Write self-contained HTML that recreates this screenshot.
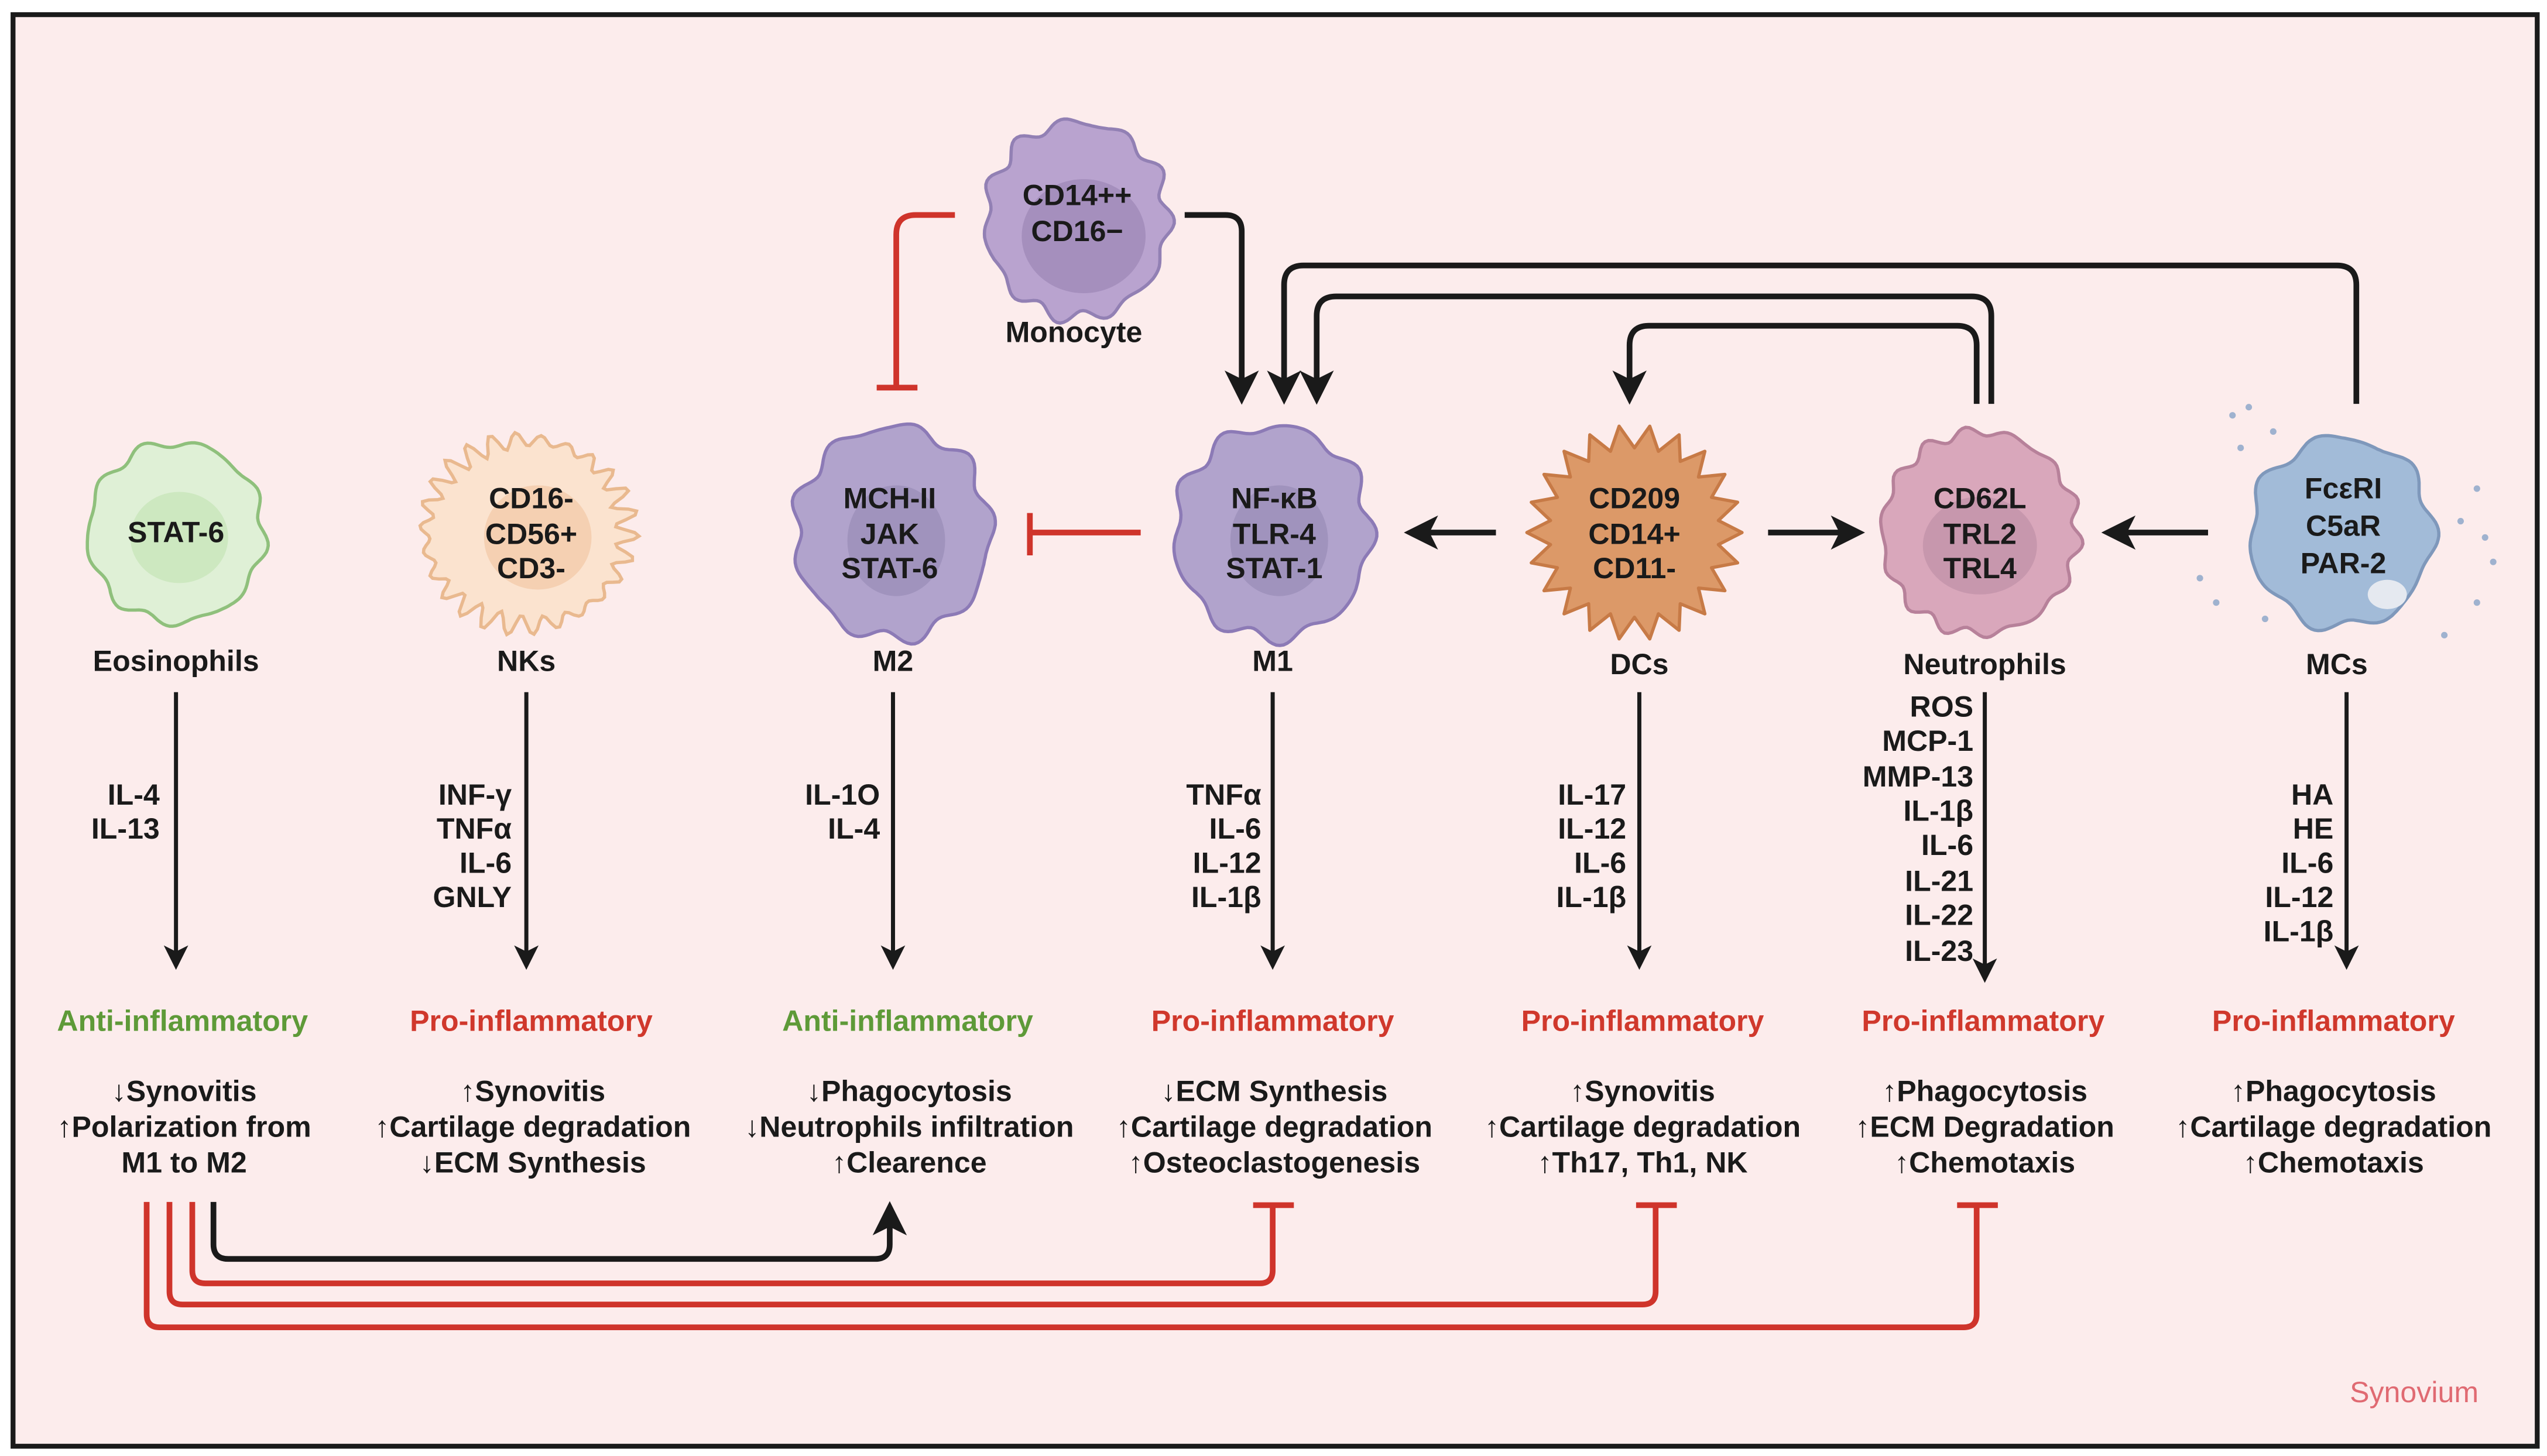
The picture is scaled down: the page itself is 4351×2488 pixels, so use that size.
<!DOCTYPE html>
<html><head><meta charset="utf-8"><style>
html,body{margin:0;padding:0;background:#fff}
svg{display:block}
text{font-family:"Liberation Sans Narrow","Liberation Sans",sans-serif;font-weight:bold;font-size:18px;fill:#1a1a1a}
.c{text-anchor:middle}.r{text-anchor:end}
.g{fill:#5e9a38}.red{fill:#d0382c}
</style></head><body>
<svg id="s" width="4351" height="2488" viewBox="0 0 1563 894" preserveAspectRatio="none" xmlns="http://www.w3.org/2000/svg">
<defs>
<marker id="a" markerWidth="6" markerHeight="6" refX="3" refY="3" orient="auto" markerUnits="strokeWidth"><path d="M0,0 L6,3 L0,6 L1.5,3 z" fill="#1a1a1a"/></marker>
</defs>
<rect x="8" y="9" width="1549" height="879" fill="#fcecec" stroke="#1a1a1a" stroke-width="3"/>
<g id="cells"></g>
<g fill="none" stroke="#1a1a1a" stroke-width="3.5" stroke-linejoin="round">
<path d="M727,132 H752 Q762,132 762,142 V238" marker-end="url(#a)"/>
<path d="M1446,248 V175 Q1446,163 1434,163 H800 Q788,163 788,175 V238" marker-end="url(#a)"/>
<path d="M1222,248 V194 Q1222,182 1210,182 H820 Q808,182 808,194 V238" marker-end="url(#a)"/>
<path d="M1213,248 V212 Q1213,200 1201,200 H1012 Q1000,200 1000,212 V238" marker-end="url(#a)"/>
<path d="M918,327 H872" marker-end="url(#a)"/>
<path d="M1085,327 H1134" marker-end="url(#a)"/>
<path d="M1355,327 H1300" marker-end="url(#a)"/>
<path d="M108,425 V588" stroke-width="2.5" marker-end="url(#a)"/>
<path d="M323,425 V588" stroke-width="2.5" marker-end="url(#a)"/>
<path d="M548,425 V588" stroke-width="2.5" marker-end="url(#a)"/>
<path d="M781,425 V588" stroke-width="2.5" marker-end="url(#a)"/>
<path d="M1006,425 V588" stroke-width="2.5" marker-end="url(#a)"/>
<path d="M1218,425 V596" stroke-width="2.5" marker-end="url(#a)"/>
<path d="M1440,425 V588" stroke-width="2.5" marker-end="url(#a)"/>
<path d="M131,738 V764 Q131,773 140,773 H537 Q546,773 546,764 V748" marker-end="url(#a)"/>
</g>
<g fill="none" stroke="#cf342b" stroke-width="3.5" stroke-linejoin="round">
<path d="M586,132 H562 Q550,132 550,144 V238 M538,238 H563"/>
<path d="M700,327 H632 M632,315 V341"/>
<path d="M118,738 V780 Q118,788 126,788 H773 Q781,788 781,780 V740 M769,740 H794"/>
<path d="M104,738 V793 Q104,801 112,801 H1008 Q1016,801 1016,793 V740 M1004,740 H1029"/>
<path d="M90,738 V807 Q90,815 98,815 H1205 Q1213,815 1213,807 V740 M1201,740 H1226"/>
</g>
<text x="661" y="126" class="c">CD14++</text><text x="661" y="148" class="c">CD16−</text>
<text x="659" y="210" class="c">Monocyte</text>
<text x="108" y="333" class="c">STAT-6</text>
<text x="326" y="312" class="c">CD16-</text><text x="326" y="334" class="c">CD56+</text><text x="326" y="355" class="c">CD3-</text>
<text x="546" y="312" class="c">MCH-II</text><text x="546" y="334" class="c">JAK</text><text x="546" y="355" class="c">STAT-6</text>
<text x="782" y="312" class="c">NF-κB</text><text x="782" y="334" class="c">TLR-4</text><text x="782" y="355" class="c">STAT-1</text>
<text x="1003" y="312" class="c">CD209</text><text x="1003" y="334" class="c">CD14+</text><text x="1003" y="355" class="c">CD11-</text>
<text x="1215" y="312" class="c">CD62L</text><text x="1215" y="334" class="c">TRL2</text><text x="1215" y="355" class="c">TRL4</text>
<text x="1438" y="306" class="c">FcεRI</text><text x="1438" y="329" class="c">C5aR</text><text x="1438" y="352" class="c">PAR-2</text>
<text x="108" y="412" class="c">Eosinophils</text><text x="323" y="412" class="c">NKs</text><text x="548" y="412" class="c">M2</text>
<text x="781" y="412" class="c">M1</text><text x="1006" y="414" class="c">DCs</text><text x="1218" y="414" class="c">Neutrophils</text><text x="1434" y="414" class="c">MCs</text>
<text x="98" y="494" class="r">IL-4</text><text x="98" y="515" class="r">IL-13</text>
<text x="314" y="494" class="r">INF-γ</text><text x="314" y="515" class="r">TNFα</text><text x="314" y="536" class="r">IL-6</text><text x="314" y="557" class="r">GNLY</text>
<text x="540" y="494" class="r">IL-1O</text><text x="540" y="515" class="r">IL-4</text>
<text x="774" y="494" class="r">TNFα</text><text x="774" y="515" class="r">IL-6</text><text x="774" y="536" class="r">IL-12</text><text x="774" y="557" class="r">IL-1β</text>
<text x="998" y="494" class="r">IL-17</text><text x="998" y="515" class="r">IL-12</text><text x="998" y="536" class="r">IL-6</text><text x="998" y="557" class="r">IL-1β</text>
<text x="1211" y="440" class="r">ROS</text><text x="1211" y="461" class="r">MCP-1</text><text x="1211" y="483" class="r">MMP-13</text><text x="1211" y="504" class="r">IL-1β</text><text x="1211" y="525" class="r">IL-6</text><text x="1211" y="547" class="r">IL-21</text><text x="1211" y="568" class="r">IL-22</text><text x="1211" y="590" class="r">IL-23</text>
<text x="1432" y="494" class="r">HA</text><text x="1432" y="515" class="r">HE</text><text x="1432" y="536" class="r">IL-6</text><text x="1432" y="557" class="r">IL-12</text><text x="1432" y="578" class="r">IL-1β</text>
<text x="112" y="633" class="c g">Anti-inflammatory</text>
<text x="326" y="633" class="c red">Pro-inflammatory</text>
<text x="557" y="633" class="c g">Anti-inflammatory</text>
<text x="781" y="633" class="c red">Pro-inflammatory</text>
<text x="1008" y="633" class="c red">Pro-inflammatory</text>
<text x="1217" y="633" class="c red">Pro-inflammatory</text>
<text x="1432" y="633" class="c red">Pro-inflammatory</text>
<text x="113" y="676" class="c">↓Synovitis</text><text x="113" y="698" class="c">↑Polarization from</text><text x="113" y="720" class="c">M1 to M2</text>
<text x="327" y="676" class="c">↑Synovitis</text><text x="327" y="698" class="c">↑Cartilage degradation</text><text x="327" y="720" class="c">↓ECM Synthesis</text>
<text x="558" y="676" class="c">↓Phagocytosis</text><text x="558" y="698" class="c">↓Neutrophils infiltration</text><text x="558" y="720" class="c">↑Clearence</text>
<text x="782" y="676" class="c">↓ECM Synthesis</text><text x="782" y="698" class="c">↑Cartilage degradation</text><text x="782" y="720" class="c">↑Osteoclastogenesis</text>
<text x="1008" y="676" class="c">↑Synovitis</text><text x="1008" y="698" class="c">↑Cartilage degradation</text><text x="1008" y="720" class="c">↑Th17, Th1, NK</text>
<text x="1218" y="676" class="c">↑Phagocytosis</text><text x="1218" y="698" class="c">↑ECM Degradation</text><text x="1218" y="720" class="c">↑Chemotaxis</text>
<text x="1432" y="676" class="c">↑Phagocytosis</text><text x="1432" y="698" class="c">↑Cartilage degradation</text><text x="1432" y="720" class="c">↑Chemotaxis</text>
<text x="1521" y="861" style="font-family:'Liberation Sans',sans-serif;font-weight:normal;fill:#e06a72" class="r">Synovium</text>
</svg>
<script>
var g=document.getElementById('cells'),NS="http://www.w3.org/2000/svg";
function blob(cx,cy,rx,ry,n,amp,fill,stroke,seed){var d="";for(var i=0;i<=180;i++){var a=i/180*2*Math.PI;var r=1+amp*Math.sin(n*a+seed)+amp*0.5*Math.sin((n+3)*a+seed*2);var x=cx+rx*r*Math.cos(a),y=cy+ry*r*Math.sin(a);d+=(i?"L":"M")+x.toFixed(1)+","+y.toFixed(1);}
var p=document.createElementNS(NS,"path");p.setAttribute("d",d+"Z");p.setAttribute("fill",fill);p.setAttribute("stroke",stroke);p.setAttribute("stroke-width","2");g.appendChild(p);}
function spiky(cx,cy,r1,r2,n,fill,stroke){var d="";for(var i=0;i<2*n;i++){var a=i/(2*n)*2*Math.PI;var r=i%2?r1:r2;d+=(i?"L":"M")+(cx+r*Math.cos(a)).toFixed(1)+","+(cy+r*Math.sin(a)).toFixed(1);}
var p=document.createElementNS(NS,"path");p.setAttribute("d",d+"Z");p.setAttribute("fill",fill);p.setAttribute("stroke",stroke);p.setAttribute("stroke-width","2");p.setAttribute("stroke-linejoin","round");g.appendChild(p);}
function ell(cx,cy,rx,ry,fill){var e=document.createElementNS(NS,"ellipse");e.setAttribute("cx",cx);e.setAttribute("cy",cy);e.setAttribute("rx",rx);e.setAttribute("ry",ry);e.setAttribute("fill",fill);g.appendChild(e);}
blob(661,135,56,60,11,0.05,"#b9a3cf","#9280b4",1);ell(665,145,38,35,"#a58fbd");
blob(108,327,54,55,9,0.04,"#dff0d6","#8fc07c",0);ell(110,330,30,28,"#cde8c0");
blob(323,327,62,57,26,0.08,"#fbe3cf","#e9b98f",0.5);ell(330,330,33,32,"#f5d0b2");
blob(548,327,60,65,9,0.05,"#b1a3cc","#8c7ab6",2);ell(550,332,30,34,"#a093bd");
blob(781,327,60,65,9,0.05,"#b1a3cc","#8c7ab6",1);ell(785,332,30,34,"#a093bd");
spiky(1003,327,52,66,22,"#dc9968","#c77a46");
blob(1215,327,60,62,14,0.04,"#d9a7bb","#b7819a",0);ell(1215,335,35,30,"#c797ad");
blob(1437,327,56,58,7,0.05,"#a2bbd8","#7f98bb",1);ell(1465,365,12,9,"#e5e9f0");
[[1380,250],[1395,265],[1520,300],[1510,320],[1360,370],[1350,355],[1520,370],[1500,390],[1375,275],[1530,345],[1390,380],[1370,255],[1525,330]].forEach(function(q){ell(q[0],q[1],2,2,"#9fb2cf")});
</script>
</body></html>
